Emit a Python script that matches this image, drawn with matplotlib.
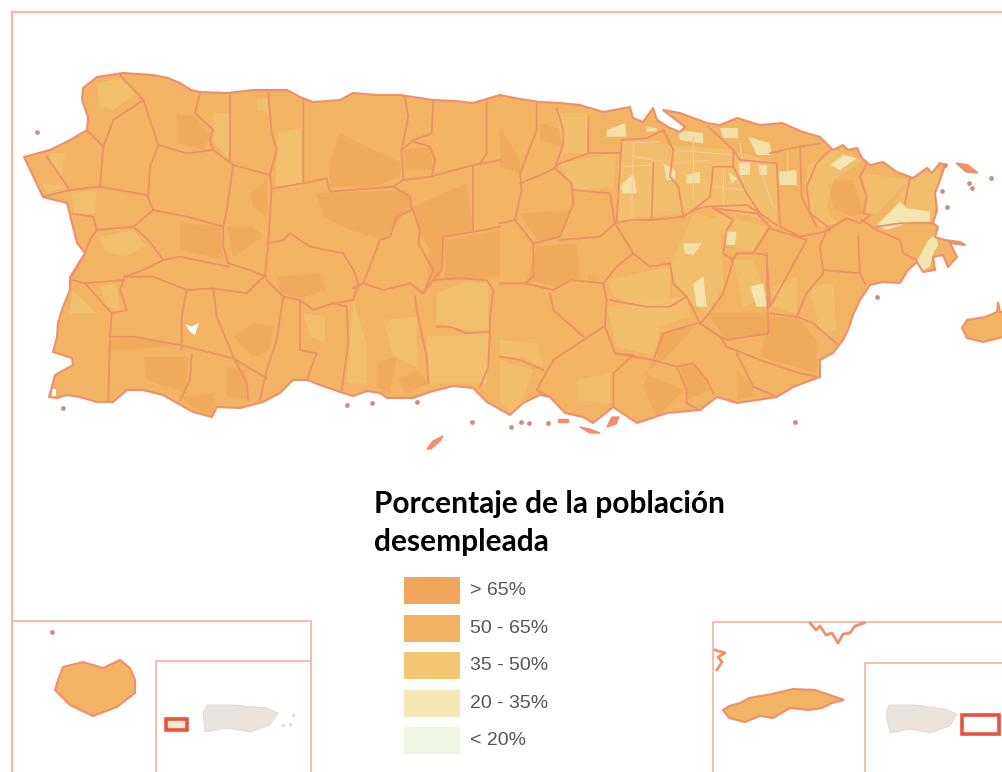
import matplotlib
matplotlib.use("Agg")
import matplotlib.pyplot as plt
from matplotlib.patches import Polygon, Rectangle

# legend classes
legend_labels = ["> 65%", "50 - 65%", "35 - 50%", "20 - 35%", "< 20%"]
legend_colors = ["#EFA75C", "#F1B262", "#F3C673", "#F4E8B4", "#EEF5E2"]
legend_tops = [577, 615, 652, 690, 727]
title_lines = ["Porcentaje de la población", "desempleada"]

line_color = "#EF8F6C"
frame_color = "#F5B7AB"

# main island outline, picture pixels
island = [(24,157),(50,150),(70,140),(87,130),(88,117),(82,100),(83,88),(97,77),(123,73),(153,75),(168,78),(180,83),
    (191,90),(200,92),(227,93),(253,90),(287,90),(300,97),(313,102),(340,100),(353,93),(378,95),(400,95),(433,100),
    (455,101),(473,103),(493,97),(500,95),(520,99),(540,102),(560,103),(580,105),(603,112),(630,107),(633,118),(643,122),
    (653,108),(657,120),(670,128),(680,132),(685,127),(663,110),(680,113),(707,123),(720,125),(737,118),(760,125),
    (782,123),(803,132),(820,137),(833,150),(843,145),(848,150),(857,148),(862,158),(870,165),(883,162),(897,172),
    (913,178),(927,168),(932,173),(940,163),(945,165),(940,180),(935,193),(937,210),(933,223),(938,227),(935,237),
    (945,240),(960,242),(965,245),(950,243),(957,257),(948,267),(943,255),(933,257),(935,270),(923,272),(917,262),
    (908,270),(900,283),(883,282),(870,285),(860,300),(853,315),(848,330),(843,340),(833,353),(820,360),(820,377),
    (793,387),(777,397),(757,400),(737,403),(717,397),(700,410),(667,413),(637,423),(625,415),(613,407),(607,412),
    (593,423),(583,417),(565,413),(550,397),(540,395),(523,403),(510,415),(487,402),(473,388),(453,386),(430,392),
    (413,398),(387,398),(380,393),(367,391),(353,396),(340,392),(320,385),(307,380),(293,380),(280,393),(263,402),
    (240,408),(217,407),(212,417),(193,412),(177,403),(163,395),(143,390),(127,390),(113,402),(97,402),(80,397),
    (67,395),(57,398),(49,397),(55,375),(73,365),(72,358),(53,352),(57,337),(58,323),(63,307),(70,290),(70,277),
    (85,253),(77,243),(72,223),(67,203),(43,197)]

# municipal borders, west half (crop coordinates)
west_lines = [
    [(360,75),(430,150),(475,285)],
    [(430,150),(340,210),(310,290),(300,410)],
    [(260,240),(310,290)],
    [(140,320),(210,420)],
    [(130,440),(210,420),(300,410),(440,435),(460,480),(560,500),(670,530)],
    [(475,285),(450,350),(445,435)],
    [(475,285),(560,310),(640,300),(700,345),(810,375)],
    [(600,130),(585,190),(640,240),(630,270),(640,300)],
    [(690,135),(690,330)],
    [(805,130),(815,250),(830,300),(810,375),(815,415),(805,580),(795,680)],
    [(910,150),(910,400),(820,415)],
    [(910,400),(980,385),(990,425),(1180,410),(1230,440),(1235,480),(1190,500),(1170,560),(1140,570),(1090,700)],
    [(1215,145),(1225,200),(1205,300),(1210,390),(1180,410)],
    [(1210,390),(1290,380),(1420,345),(1500,330)],
    [(1300,150),(1295,250),(1240,270),(1205,300)],
    [(1240,275),(1290,290),(1305,330),(1295,380)],
    [(1460,145),(1460,310),(1440,340)],
    [(700,345),(680,480),(670,530),(670,590),(685,640),(750,660),(795,680)],
    [(460,480),(400,530),(290,540),(280,500),(210,490)],
    [(400,530),(445,570),(490,630),(430,660),(375,680),(360,720),(380,780),(335,790),(255,700),(215,690)],
    [(490,630),(540,620),(685,650)],
    [(290,540),(270,570),(250,620),(215,680)],
    [(255,700),(370,690)],
    [(375,680),(460,680),(560,720),(640,715),(740,730),(780,690),(795,680)],
    [(335,790),(330,860),(325,1050)],
    [(330,860),(400,860),(540,885),(700,925),(800,985)],
    [(560,720),(545,800),(545,900)],
    [(640,715),(650,800),(700,920),(740,1000),(745,1050)],
    [(575,915),(570,990),(540,1050)],
    [(800,690),(850,740),(830,870),(800,960),(780,1050)],
    [(850,740),(900,750),(900,900),(950,910),(920,990)],
    [(800,580),(850,570),(870,550),(930,590),(1030,610),(1060,660),(1075,700),(1060,750),(1000,760),(940,780),(900,750)],
    [(1060,715),(1090,700),(1150,720),(1230,700),(1270,730),(1300,690)],
    [(1000,760),(1040,770),(1045,880),(1025,1020)],
    [(1245,740),(1250,780),(1280,920),(1285,1000)],
    [(1235,470),(1260,540),(1255,580),(1300,660),(1270,730)],
    [(1420,350),(1420,545)],
    [(1330,560),(1425,545),(1500,530)],
    [(1330,560),(1325,660),(1300,690),(1380,685),(1460,690),(1480,720),(1470,800),(1470,840)],
    [(1310,830),(1350,830),(1400,850),(1470,845),(1465,950),(1440,1010)],
]

# municipal borders, east half (crop coordinates)
east_lines = [
    [(110,60),(110,150),(60,280),(65,330),(45,420),(100,490),(100,590),(75,610)],
    [(0,430),(45,420)],
    [(0,610),(75,610),(160,630),(215,600),(310,610)],
    [(170,85),(190,150),(190,190),(165,265),(110,290),(60,310)],
    [(265,110),(265,220),(180,250),(160,265)],
    [(265,220),(360,220)],
    [(165,265),(215,310),(220,370),(180,470),(100,490)],
    [(220,330),(330,340),(345,430),(300,470),(180,480)],
    [(345,430),(400,520),(350,560),(310,610),(320,660)],
    [(345,430),(390,420),(450,420),(550,410),(580,390),(620,380),(740,375),(780,400)],
    [(350,425),(365,180),(440,175),(490,150)],
    [(490,150),(520,210),(510,290),(535,320),(550,410)],
    [(460,250),(455,420)],
    [(580,390),(630,350),(640,260),(700,260),(740,340),(780,400),(830,435)],
    [(625,140),(700,210),(700,260)],
    [(700,210),(720,240),(830,250),(840,440),(900,470),(950,460),(990,450)],
    [(810,220),(850,210),(900,200),(905,350),(950,440)],
    [(900,200),(960,190)],
    [(640,385),(700,420),(680,450),(670,520),(700,540),(670,640),(620,710),(600,730)],
    [(640,385),(770,400),(810,440),(760,520),(710,520),(695,545)],
    [(810,445),(920,480),(860,590),(810,680),(800,525),(770,520)],
    [(800,520),(805,760),(680,780),(660,770),(600,730)],
    [(400,520),(450,560),(510,550),(520,610),(560,650),(510,680),(440,680),(380,670),(330,660)],
    [(320,660),(315,740),(345,820),(460,840),(490,760),(590,730)],
    [(560,650),(585,700),(600,730)],
    [(310,740),(250,780),(160,840),(110,930),(150,950)],
    [(150,640),(160,690),(250,770)],
    [(0,830),(60,840),(130,870)],
    [(345,820),(400,825),(340,880),(340,990)],
    [(460,840),(530,860),(560,930),(560,970),(600,990)],
    [(530,860),(580,850),(620,900),(640,940)],
    [(660,770),(680,800),(780,840),(900,880),(950,890)],
    [(710,820),(760,920),(830,950)],
    [(810,700),(890,710),(940,730),(1020,800)],
    [(980,450),(960,500),(970,580),(920,640),(890,710)],
    [(970,570),(1080,580),(1095,610)],
    [(980,450),(1040,415),(1080,430),(1110,405)],
    [(1075,470),(1080,580)],
    [(1085,420),(1130,450),(1200,480),(1210,520),(1250,540)],
    [(1130,440),(1200,430),(1310,430)],
    [(1080,290),(1100,350),(1090,400),(1110,405)],
    [(1230,295),(1215,370)],
    [(1080,290),(1100,250),(1150,245),(1230,290)],
    [(1000,200),(950,250),(920,320),(930,400),(990,445)],
]

# tracts by class, west crop
west_dark = [
    [(530,190),(585,200),(630,260),(610,300),(530,280)],
    [(1020,250),(1100,290),(1170,320),(1200,340),(1200,380),(1120,410),(990,410),(985,340)],
    [(950,430),(1220,420),(1230,470),(1150,570),(1050,540),(970,500)],
    [(540,520),(660,530),(670,630),(540,600)],
    [(1240,470),(1400,400),(1420,540),(1330,560),(1320,680),(1280,700),(1290,600),(1250,530)],
    [(1335,570),(1500,540),(1500,680),(1335,690)],
    [(830,680),(960,670),(980,720),(900,745),(840,730)],
    [(700,860),(760,820),(820,830),(810,900),(760,920)],
    [(430,920),(565,920),(560,1030),(440,990)],
    [(330,870),(400,865),(530,885),(400,900),(330,900)],
    [(680,950),(740,960),(740,1050),(680,1040)],
    [(540,1040),(640,1030),(650,1095),(590,1080)],
    [(680,530),(760,530),(790,560),(700,620)],
    [(750,430),(800,390),(800,500),(760,470)],
    [(1210,300),(1290,290),(1300,360),(1220,360)],
    [(1195,990),(1250,960),(1285,1000),(1220,1030)],
    [(1130,940),(1190,920),(1170,1030),(1130,1010)],
]
west_light = [
    [(290,100),(360,85),(410,130),(340,180),(300,170)],
    [(150,310),(195,310),(185,380),(150,350)],
    [(125,400),(200,410),(140,430)],
    [(215,430),(290,420),(285,490),(220,490)],
    [(300,560),(400,540),(440,590),(370,620),(310,600)],
    [(640,190),(685,190),(685,320),(640,280)],
    [(835,245),(905,235),(905,410),(825,410)],
    [(1310,730),(1400,695),(1465,700),(1465,840),(1400,840),(1310,820)],
    [(1280,860),(1465,850),(1460,1000),(1290,1000)],
    [(910,790),(975,800),(975,880),(930,860)],
    [(215,720),(290,790),(210,790)],
    [(300,710),(350,700),(360,780),(320,770)],
    [(1060,750),(1100,880),(1100,1000),(1040,1000)],
    [(1150,810),(1250,800),(1250,950),(1180,920)],
    [(770,145),(800,145),(805,190),(770,180)],
]
# tracts by class, east crop
east_dark = [
    [(60,400),(210,390),(180,470),(110,480)],
    [(0,140),(60,240),(60,280),(0,260)],
    [(480,760),(590,735),(490,840),(430,880),(555,930),(470,1010),(430,920)],
    [(540,860),(590,860),(630,930),(560,960)],
    [(710,870),(760,920),(760,950),(710,960)],
    [(810,710),(890,710),(950,780),(950,880),(780,830),(800,760)],
    [(620,700),(800,700),(800,760),(680,780)],
    [(980,310),(1060,300),(1090,400),(1050,410),(1000,380)],
    [(120,130),(190,150),(190,200),(120,180)],
    [(110,500),(230,490),(240,590),(170,620),(80,600)],
    [(260,580),(300,600),(270,610)],
]
east_light = [
    [(360,180),(700,210),(830,250),(830,430),(640,380),(550,400),(350,420)],
    [(170,100),(265,100),(260,220),(190,220)],
    [(180,250),(350,220),(340,320),(220,330)],
    [(580,400),(660,420),(670,620),(620,700),(575,670),(520,600),(510,560)],
    [(640,400),(800,440),(760,510),(690,500)],
    [(320,600),(510,560),(510,660),(430,680),(340,650)],
    [(320,680),(560,650),(570,710),(480,740),(470,830),(350,800)],
    [(920,260),(1000,210),(1090,240),(1000,300),(980,380),(1010,430),(960,440),(920,380)],
    [(1090,280),(1230,300),(1130,400),(1100,400)],
    [(1230,300),(1320,260),(1310,420),(1180,370)],
    [(820,620),(890,590),(890,700),(820,680)],
    [(0,780),(110,790),(130,860),(70,830),(0,830)],
    [(0,840),(100,870),(60,980),(30,1000),(0,960)],
    [(230,900),(330,880),(330,970),(230,960)],
    [(700,540),(760,540),(800,650),(730,680)],
    [(930,620),(1000,610),(1010,750),(960,760)],
]
east_pale = [
    [(580,610),(610,590),(620,680),(590,680)],
    [(750,620),(790,610),(800,680),(770,680)],
]
# metro crop, palest tracts
metro_pale = [
    [(20,90),(75,70),(80,110),(20,110)],
    [(60,260),(100,220),(110,280),(70,280)],
    [(140,80),(170,85),(170,95),(140,95)],
    [(190,190),(225,210),(225,240),(200,240)],
    [(235,90),(310,100),(310,130),(240,120)],
    [(260,225),(300,215),(300,250),(260,250)],
    [(360,85),(415,85),(415,115),(370,115)],
    [(445,110),(510,130),(515,165),(470,165)],
    [(415,190),(450,185),(450,225),(420,225)],
    [(475,195),(500,195),(500,225),(480,225)],
    [(535,215),(590,210),(590,255),(540,255)],
    [(375,395),(410,395),(405,435),(380,435)],
    [(250,430),(305,430),(280,465),(255,460)],
    [(385,215),(410,235),(395,250)],
]
# east end crop, palest tracts
cape_pale = [
    [(170,285),(240,215),(260,235),(330,245),(330,275),(270,275),(230,290),(200,300)],
    [(30,105),(70,75),(110,85),(60,120)],
    [(290,395),(325,330),(345,315),(355,345),(340,370),(330,410),(310,420)],
]
metro_cells = [
    [(70,130),(180,125)], [(100,170),(190,185)], [(230,150),(400,165)], [(280,110),(280,300)], [(220,190),(330,180)],
    [(50,200),(160,195)], [(100,130),(95,360)], [(370,205),(370,310)], [(340,260),(440,270)], [(470,180),(520,320)],
    [(420,130),(430,190)], [(560,150),(560,210)],
]

# smaller land
mona = [(55,690),(58,680),(63,667),(83,662),(103,668),(120,660),(130,668),(135,680),(135,693),(117,707),(93,716),(70,705)]
vieques_main = [(962,328),(967,320),(985,317),(997,312),(998,302),(1000,312),(1003,312),(1003,337),(983,342),(967,338)]
vieques_inset = [(723,710),(729,706),(740,703),(749,698),(772,694),(793,689),(815,690),(830,695),(844,700),(832,703),
    (822,708),(809,710),(790,708),(773,718),(760,716),(745,722),(729,718)]
culebra_line = [(810,623),(816,630),(820,626),(826,635),(832,633),(838,643),(843,634),(850,633),(855,626),(864,623)]
west_tip_line = [(715,650),(725,653),(718,657),(722,662),(717,670)]
locator_left = [(207,705),(233,705),(267,708),(278,713),(270,725),(250,732),(227,728),(205,732),(203,713)]
locator_right = [(889,705),(915,705),(945,709),(957,714),(950,726),(930,733),(910,729),(890,733),(886,714)]
locator_islets = [(293,715),(283,725),(290,724)]
islets = [(37,132),(472,422),(347,405),(372,403),(417,402),(511,427),(521,422),(529,423),(548,423),(942,191),
    (947,207),(877,297),(945,165),(991,178),(969,183),(972,188),(52,632),(795,422),(63,408)]
long_islets = [
    [(427,449),(433,441),(443,436),(440,441),(431,449)],
    [(956,163),(968,165),(978,173),(966,172)],
    [(580,427),(590,429),(600,433),(590,433)],
    [(558,419),(568,419),(568,422),(558,422)],
    [(607,427),(612,417),(619,417),(616,424)],
]


def west(pts):
    return [(x / 3, 50 + y / 3) for x, y in pts]


def east(pts):
    return [(500 + x / 3, 80 + y / 3) for x, y in pts]


def metro(pts):
    return [(600 + x / 3, 100 + y / 3) for x, y in pts]


def cape(pts):
    return [(820 + x / 3, 130 + y / 3) for x, y in pts]


fig = plt.figure(figsize=(10.02, 7.72), dpi=100)
ax = fig.add_axes([0, 0, 1, 1])
ax.set_xlim(0, 1002)
ax.set_ylim(772, 0)
ax.axis("off")

# frames
ax.plot([12, 12], [772, 12], color=frame_color, lw=1.6)
ax.plot([12, 1002], [12, 12], color=frame_color, lw=1.6)
for xs, ys in [([12, 311, 311], [621, 621, 772]), ([156, 156, 311], [772, 661, 661]),
               ([713, 713, 1002], [772, 622, 622]), ([865, 865, 1002], [772, 663, 663])]:
    ax.plot(xs, ys, color=frame_color, lw=1.3)

base = Polygon(island, closed=True, fc="#F2B365", ec="none", zorder=2)
ax.add_patch(base)

# tracts clipped to the island
groups = [(west_dark, west, 0, 0.7), (east_dark, east, 0, 0.7), (west_light, west, 2, 0.65), (east_light, east, 2, 0.6),
          (east_pale, east, 3, 0.9), (metro_pale, metro, 3, 0.85), (cape_pale, cape, 3, 0.95)]
for polys, conv, cls, alpha in groups:
    for p in polys:
        patch = Polygon(conv(p), closed=True, fc=legend_colors[cls], ec="none", alpha=alpha, zorder=3)
        ax.add_patch(patch)
        patch.set_clip_path(base)

# thin tract lines in the metro area
for l in metro_cells:
    xs, ys = zip(*metro(l))
    ax.plot(xs, ys, color="#F6C9A0", lw=0.8, zorder=4)

# holes
ax.add_patch(Polygon(west([(555,822),(575,830),(597,818),(585,855),(570,845)]), closed=True, fc="white", ec="none", zorder=4))
ax.add_patch(Polygon([(52,389),(56,389),(56,396),(52,396)], closed=True, fc="white", ec="none", zorder=4))

for lines, conv in [(west_lines, west), (east_lines, east)]:
    for l in lines:
        xs, ys = zip(*conv(l))
        ln, = ax.plot(xs, ys, color=line_color, lw=1.3, zorder=5, solid_joinstyle="round")
        ln.set_clip_path(base)

ax.add_patch(Polygon(island, closed=True, fc="none", ec=line_color, lw=1.5, zorder=6, joinstyle="round"))

for shape in [mona, vieques_main, vieques_inset]:
    ax.add_patch(Polygon(shape, closed=True, fc="#F2B365", ec=line_color, lw=1.5, zorder=6))

for shape in [culebra_line, west_tip_line]:
    xs, ys = zip(*shape)
    ax.plot(xs, ys, color=line_color, lw=2.0, zorder=6)

xs, ys = zip(*islets)
ax.scatter(xs, ys, s=12, color="#C9907E", linewidths=0, zorder=6)
for shape in long_islets:
    ax.add_patch(Polygon(shape, closed=True, fc=line_color, ec=line_color, lw=1, zorder=6))

# locator maps
for shape in [locator_left, locator_right]:
    ax.add_patch(Polygon(shape, closed=True, fc="#EAE3DE", ec="#E3D8D2", lw=0.6, zorder=6))
xs, ys = zip(*locator_islets)
ax.scatter(xs, ys, s=6, color="#E3D8D2", linewidths=0, zorder=6)
ax.add_patch(Rectangle((166, 719), 21, 11, fc="#FBE6DC", ec="#E8533B", lw=2.6, zorder=7))
ax.add_patch(Rectangle((962, 715), 37, 19, fc="white", ec="#E8533B", lw=2.6, zorder=7))

# legend
for i, t in enumerate(title_lines):
    ax.text(374, 504 + i * 38, t, fontsize=21.5, fontweight="bold", family="Lato", color="black", va="center", ha="left")
for lab, col, top in zip(legend_labels, legend_colors, legend_tops):
    ax.add_patch(Rectangle((404, top), 56, 27, fc=col, ec="none", zorder=3))
    ax.text(470, top + 13.5, lab, fontsize=14, family="Liberation Sans", color="#555555", va="center", ha="left")

fig.savefig("out.png", dpi=100)
